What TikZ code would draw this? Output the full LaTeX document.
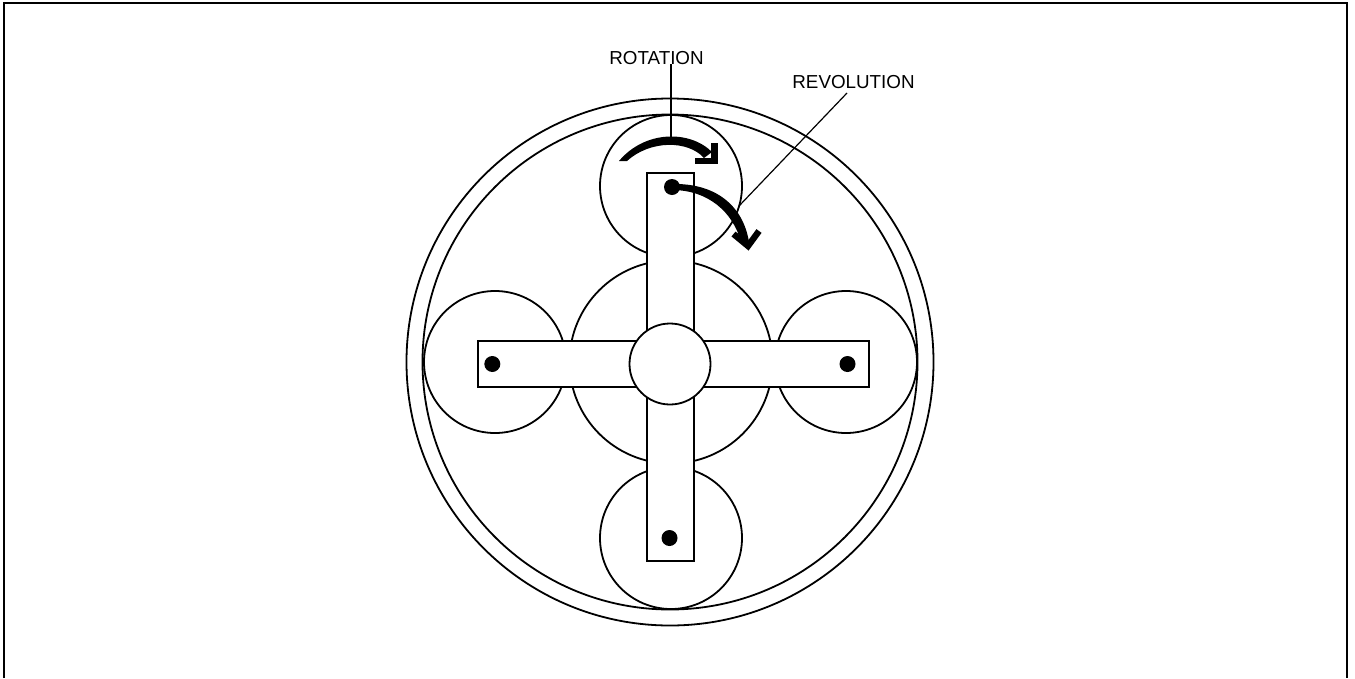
\documentclass[tikz,border=0pt]{standalone}
\usepackage{fontspec}
\setmainfont{Liberation Sans}
\begin{document}
\begin{tikzpicture}[x=1pt,y=-1pt,
  wheel/.style={circle,draw=black,line width=1.8pt,inner sep=0pt,outer sep=0pt},
  arm/.style={rectangle,draw=black,fill=white,line width=1.8pt,inner sep=0pt,outer sep=0pt},
  pin/.style={circle,fill=black,inner sep=0pt,outer sep=0pt,minimum size=16pt},
  lbl/.style={font=\fontsize{18.8}{20}\selectfont,inner sep=0pt,anchor=base},
  leader/.style={draw=black,line width=1.2pt},
  motionbody/.style={fill=black},
  motionhead/.style={draw=black,line width=6.3pt,miter limit=10}]
\useasboundingbox (0,0) rectangle (1355,678);
% frame
\coordinate (fa) at (4,678); \coordinate (fb) at (4,3);
\coordinate (fc) at (1347,3); \coordinate (fd) at (1347,678);
\draw[line width=2.2pt] (fa) -- (fb) -- (fc) -- (fd);
% ring
\node[wheel,minimum size=527pt] (outer) at (670,362) {};
\node[wheel,minimum size=495pt] (inner) at (670,362) {};
% gears
\node[wheel,minimum size=142pt] (ptop) at (671,186) {};
\node[wheel,minimum size=142pt] (pbot) at (671,538) {};
\node[wheel,minimum size=142pt] (pleft) at (495,362) {};
\node[wheel,minimum size=142pt] (pright) at (846,362) {};
\node[wheel,minimum size=203pt] (sun) at (671,362) {};
% carrier
\node[arm,minimum width=391pt,minimum height=46pt] (hbar) at (673.5,364.3) {};
\node[arm,minimum width=47pt,minimum height=388pt] (vbar) at (670.2,367) {};
\node[wheel,fill=white,minimum size=81pt] (hub) at (670,364) {};
% pins
\node[pin] (dtop) at (672,187) {};
\node[pin] (dbot) at (669.5,538) {};
\node[pin] (dleft) at (492.3,364) {};
\node[pin] (dright) at (847.5,364) {};
% labels
\node[lbl] (rot) at (656.5,64.5) {ROTATION};
\node[lbl] (rev) at (853.5,88) {REVOLUTION};
% leaders
\coordinate (rota) at (670.5,64);
\coordinate (rotb) at (670.5,138);
\coordinate (reva) at (847,93);
\coordinate (revb) at (739,206);
\draw[leader,line width=2pt] (rota) -- (rotb);
\draw[leader] (reva) -- (revb);
% rotation arrow
\coordinate (rc) at (714.6,143);
\coordinate (rd) at (695,161);
\coordinate (re) at (714.6,161);
\fill[motionbody] (619,161) .. controls (645,130) and (690,130) .. (712,152) -- (704,158) .. controls (688,140) and (650,140) .. (627,161) -- cycle;
\draw[motionhead] (rc) -- (re) -- (rd);
% revolution arrow
\coordinate (vc) at (733.5,234);
\coordinate (vd) at (748,246);
\coordinate (ve) at (759,231);
\fill[motionbody] (672,184) .. controls (715,183) and (743,205) .. (749,242) -- (741,242) .. controls (733,212) and (708,190) .. (672,190) -- cycle;
\draw[motionhead] (vc) -- (vd) -- (ve);
\end{tikzpicture}
\end{document}
